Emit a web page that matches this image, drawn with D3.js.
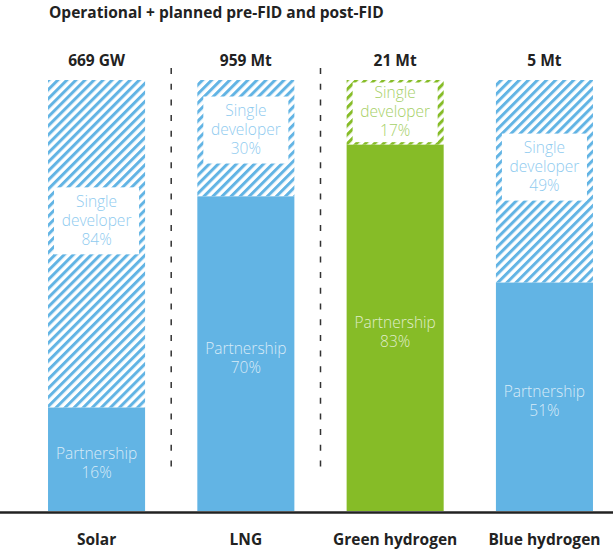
<!DOCTYPE html>
<html>
<head>
<meta charset="utf-8">
<script src="https://cdn.jsdelivr.net/npm/d3@7"></script>
<style>
  body { margin: 0; background: #fff; }
  svg text { font-family: "Open Sans", "Noto Sans", sans-serif; }
  .title { font-size: 15.5px; font-weight: 700; fill: #222; }
  .total { font-size: 15.5px; font-weight: 700; fill: #222; }
  .cat { font-size: 15.5px; font-weight: 700; fill: #222; }
  .lbl { font-size: 15.5px; font-weight: 300; }
</style>
</head>
<body>
<svg width="613" height="549"></svg>
<script>
var categories = ["Solar", "LNG", "Green hydrogen", "Blue hydrogen"];
var totals = ["669 GW", "959 Mt", "21 Mt", "5 Mt"];
// partnership share as drawn in the picture (bar height, %)
var partnership = [24, 73, 85, 53];
var partnershipLabels = ["16%", "70%", "83%", "51%"];
var singleLabels = ["84%", "30%", "17%", "49%"];
var colours = ["blue", "blue", "green", "blue"];
var separatorsAfter = ["Solar", "LNG"];

var palette = {
  blue: { fill: "#62b4e4", text: "#8fcbef" },
  green: { fill: "#86bc27", text: "#a6d067" }
};

var svg = d3.select("svg");
var yBottom = 511, yTop = 80;

var xScale = d3.scaleBand()
  .domain(categories)
  .range([21.9, 619.1])
  .paddingInner(0.35)
  .paddingOuter(0.175);
var yScale = d3.scaleLinear().domain([0, 100]).range([yBottom, yTop]);

var defs = svg.append("defs");
Object.keys(palette).forEach(function(k) {
  var p = defs.append("pattern")
    .attr("id", "hatch-" + k)
    .attr("patternUnits", "userSpaceOnUse")
    .attr("width", 6.4)
    .attr("height", 6.4)
    .attr("patternTransform", "rotate(45)");
  p.append("rect").attr("width", 6.4).attr("height", 6.4).attr("fill", "#fff");
  p.append("rect").attr("width", 3).attr("height", 6.4).attr("fill", palette[k].fill);
});

svg.append("text")
  .attr("class", "title")
  .attr("x", 49)
  .attr("y", 18)
  .text("Operational + planned pre-FID and post-FID");

var data = categories.map(function(c, i) {
  return { cat: c, total: totals[i], part: partnership[i], partLbl: partnershipLabels[i],
           singleLbl: singleLabels[i], col: palette[colours[i]], key: colours[i] };
});

var g = svg.append("g");
var bw = xScale.bandwidth();

// hatched single developer part
g.selectAll(".single")
  .data(data)
  .enter()
  .append("rect")
  .attr("x", d => xScale(d.cat))
  .attr("y", yScale(100))
  .attr("width", bw)
  .attr("height", d => yScale(d.part) - yScale(100))
  .attr("fill", d => "url(#hatch-" + d.key + ")");

// solid partnership part
g.selectAll(".part")
  .data(data)
  .enter()
  .append("rect")
  .attr("x", d => xScale(d.cat))
  .attr("y", d => yScale(d.part))
  .attr("width", bw)
  .attr("height", d => yScale(0) - yScale(d.part))
  .attr("fill", d => d.col.fill);

// label boxes and labels
data.forEach(function(d) {
  var y0 = yScale(100), y1 = yScale(d.part);
  var h = Math.min(67, y1 - y0 - 5);
  var cy = y0 + (y1 - y0) * 0.43;
  cy = Math.max(cy, y0 + 2.5 + h / 2);
  var x0 = xScale(d.cat);
  g.append("rect")
    .attr("x", x0 + 6)
    .attr("y", cy - h / 2)
    .attr("width", bw - 12)
    .attr("height", h)
    .attr("fill", "#fff");
  ["Single", "developer", d.singleLbl].forEach(function(s, j) {
    g.append("text")
      .attr("class", "lbl")
      .attr("text-anchor", "middle")
      .attr("fill", d.col.text)
      .attr("x", x0 + bw / 2)
      .attr("y", cy + 5 + (j - 1) * 19)
      .text(s);
  });

  var pc = (y1 + yScale(0)) / 2 + 4;
  ["Partnership", d.partLbl].forEach(function(s, j) {
    g.append("text")
      .attr("class", "lbl")
      .attr("text-anchor", "middle")
      .attr("fill", "rgba(255,255,255,0.75)")
      .attr("x", x0 + bw / 2)
      .attr("y", pc - 4 + j * 19)
      .text(s);
  });
});

// totals
g.selectAll(".total")
  .data(data)
  .enter()
  .append("text")
  .attr("class", "total")
  .attr("text-anchor", "middle")
  .attr("x", d => xScale(d.cat) + bw / 2)
  .attr("y", 66)
  .text(d => d.total);

// separators
separatorsAfter.forEach(function(c) {
  var i = categories.indexOf(c);
  var xm = (xScale(c) + bw + xScale(categories[i + 1])) / 2;
  g.append("line")
    .attr("x1", xm).attr("x2", xm)
    .attr("y1", 68).attr("y2", 472)
    .attr("stroke", "#333")
    .attr("stroke-width", 1.5)
    .attr("stroke-dasharray", "6,9.7");
});

// baseline
svg.append("line")
  .attr("x1", 0).attr("x2", 613)
  .attr("y1", 512.5).attr("y2", 512.5)
  .attr("stroke", "#222")
  .attr("stroke-width", 2.5);

// category labels
g.selectAll(".cat")
  .data(data)
  .enter()
  .append("text")
  .attr("class", "cat")
  .attr("text-anchor", "middle")
  .attr("x", d => xScale(d.cat) + bw / 2)
  .attr("y", 545)
  .text(d => d.cat);
</script>
</body>
</html>
